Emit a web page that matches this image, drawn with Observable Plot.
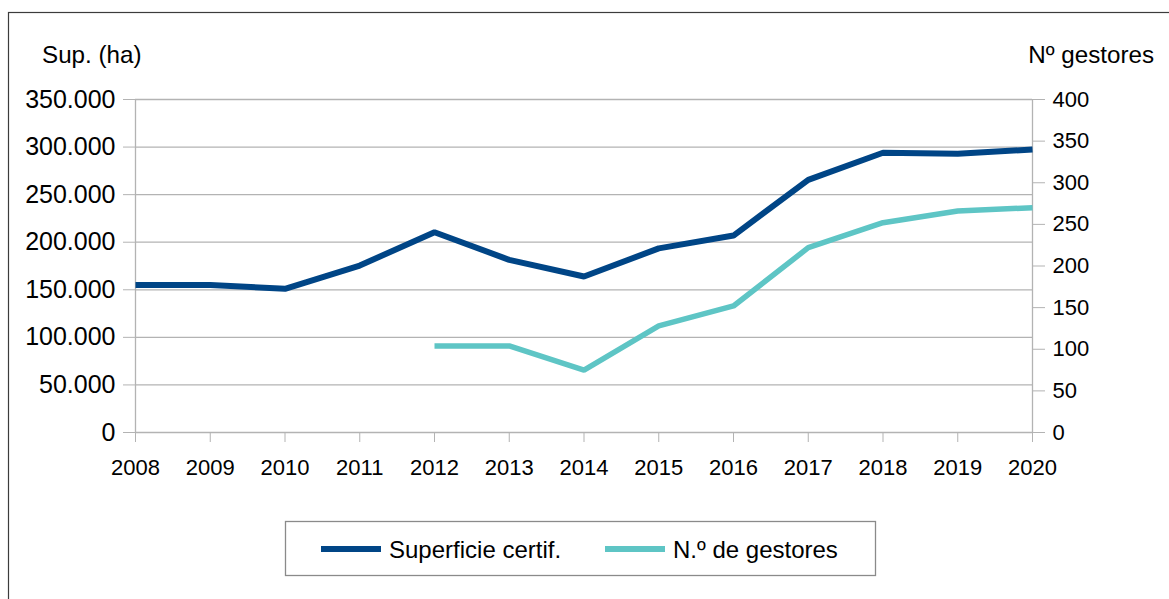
<!DOCTYPE html>
<html>
<head>
<meta charset="utf-8">
<script src="https://cdn.jsdelivr.net/npm/d3@7"></script>
<script src="https://cdn.jsdelivr.net/npm/@observablehq/plot@0.6"></script>
<style>
  html, body { margin: 0; padding: 0; background: white; }
  svg { display: block; }
</style>
</head>
<body>
<div id="chart"></div>
<script>
const years = [2008, 2009, 2010, 2011, 2012, 2013, 2014, 2015, 2016, 2017, 2018, 2019, 2020];
const superficie = [155000, 155000, 151000, 175500, 210500, 181500, 164000, 193500, 207000, 265500, 294000, 293000, 297500];
const gestores = [null, null, null, null, 104, 104, 75, 128, 152, 222, 252, 266, 270];
const leftTicks = [0, 50000, 100000, 150000, 200000, 250000, 300000, 350000];
const rightTicks = [0, 50, 100, 150, 200, 250, 300, 350, 400];
const seriesNames = ["Superficie certif.", "N.º de gestores"];
const axisTitles = ["Sup. (ha)", "Nº gestores"];
const colors = ["#004586", "#5ec5c5"];

const ratio = 350000 / 400;
const es = d3.formatLocale({decimal: ",", thousands: ".", grouping: [3], currency: ["", ""]});
const fmt = es.format(",d");

const supData = years.map((y, i) => ({year: y, value: superficie[i]}));
const gesData = years.map((y, i) => ({year: y, value: gestores[i]})).filter(d => d.value != null);

const W = 1169, H = 599;
const chart = Plot.plot({
  width: W,
  height: H,
  marginLeft: 135,
  marginRight: 137,
  marginTop: 99,
  marginBottom: 167,
  style: {fontFamily: "'Liberation Sans', Arial, sans-serif", background: "white", color: "black"},
  x: {domain: [2008, 2020]},
  y: {domain: [0, 350000]},
  marks: [
    Plot.gridY(leftTicks, {stroke: "#b3b3b3", strokeOpacity: 1, strokeWidth: 1.3}),
    Plot.ruleX([2008, 2020], {stroke: "#b3b3b3", strokeWidth: 1.3}),
    Plot.axisY(leftTicks, {anchor: "left", tickSize: 12, tickPadding: 8, tickFormat: fmt, fontSize: 25, stroke: "#b3b3b3", fill: "black", label: null}),
    Plot.axisY(rightTicks.map(v => v * ratio), {anchor: "right", tickSize: 12, tickPadding: 8, tickFormat: d => String(Math.round(d / ratio)), fontSize: 22, stroke: "#b3b3b3", fill: "black", label: null}),
    Plot.axisX(years, {anchor: "bottom", tickSize: 10, tickPadding: 17, tickFormat: d => String(d), fontSize: 22, stroke: "#b3b3b3", fill: "black", label: null}),
    Plot.line(gesData, {x: "year", y: d => d.value * ratio, stroke: colors[1], strokeWidth: 5.5, strokeLinejoin: "miter", strokeLinecap: "butt"}),
    Plot.line(supData, {x: "year", y: "value", stroke: colors[0], strokeWidth: 6, strokeLinejoin: "miter", strokeLinecap: "butt"})
  ]
});

const svg = d3.select(chart);
// outer border
svg.insert("rect", ":first-child")
  .attr("x", 8.5).attr("y", 12.5).attr("width", W + 10).attr("height", H + 10)
  .attr("fill", "white").attr("stroke", "#3c3c3c").attr("stroke-width", 1.2);

// axis titles
svg.append("text").attr("x", 42).attr("y", 63).attr("text-anchor", "start").attr("font-size", 24.2).attr("fill", "black").text(axisTitles[0]);
svg.append("text").attr("x", 1154).attr("y", 63).attr("text-anchor", "end").attr("font-size", 24.2).attr("fill", "black").text(axisTitles[1]);

// legend
const lg = svg.append("g");
lg.append("rect").attr("x", 285.5).attr("y", 521.5).attr("width", 590).attr("height", 54)
  .attr("fill", "white").attr("stroke", "#8a8a8a").attr("stroke-width", 1.3);
const items = [{x: 321, tx: 389}, {x: 605, tx: 673}];
items.forEach((it, i) => {
  lg.append("line").attr("x1", it.x).attr("x2", it.x + 60).attr("y1", 549).attr("y2", 549)
    .attr("stroke", colors[i]).attr("stroke-width", 6);
  lg.append("text").attr("x", it.tx).attr("y", 557.5).attr("text-anchor", "start").attr("font-size", 24).attr("fill", "black").text(seriesNames[i]);
});

document.getElementById("chart").appendChild(chart);
</script>
</body>
</html>
